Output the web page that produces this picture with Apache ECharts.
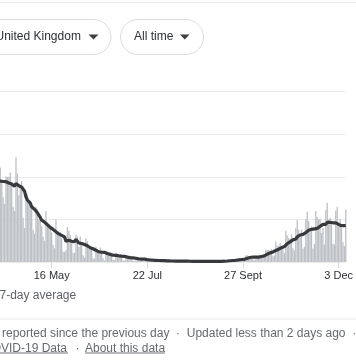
<!DOCTYPE html>
<html><head><meta charset="utf-8">
<script src="https://cdn.jsdelivr.net/npm/echarts@6/dist/echarts.min.js"></script>
<style>html,body{margin:0;padding:0;background:#fff;overflow:hidden}#c{width:356px;height:360px}</style>
</head><body><div id="c"></div>
<script>
// Daily reported deaths, starting 1 Apr 2020 (day 0)
const startDate = [2020, 3, 1];
const dailyDeaths = [
  900, 980, 1050, 950, 800,
  650, 1050, 1100, 1000, 1110, 950, 760,
  680, 1000, 1000, 1000, 1050, 920, 650,
  600, 1230, 1040, 780, 900, 950, 520,
  400, 750, 800, 700, 720, 650, 380,
  330, 650, 620, 500, 540, 420, 300,
  250, 600, 450, 430, 400, 350, 200,
  160, 500, 360, 340, 350, 280, 120,
  120, 140, 410, 370, 320, 220, 110,
  110, 320, 300, 180, 300, 200, 80,
  55, 280, 240, 150, 170, 150, 40,
  40, 180, 150, 110, 170, 125, 45,
  15, 120, 110, 100, 110, 70, 30,
  20, 110, 100, 70, 90, 60, 20,
  15, 80, 70, 60, 50, 45, 15,
  10, 60, 50, 40, 35, 30, 10,
  8, 40, 30, 25, 20, 18, 8,
  6, 30, 25, 18, 15, 14, 5,
  5, 20, 16, 14, 12, 10, 4,
  4, 15, 14, 12, 11, 9, 3,
  3, 14, 13, 10, 9, 7, 2,
  2, 12, 15, 10, 9, 6, 1,
  2, 8, 10, 12, 10, 7, 3,
  3, 11, 8, 14, 8, 9, 5,
  9, 20, 18, 21, 21, 15, 18,
  11, 37, 27, 40, 40, 34, 17,
  20, 80, 80, 70, 65, 55, 40,
  19, 76, 70, 77, 87, 81, 65,
  50, 143, 137, 138, 136, 150, 67,
  80, 241, 191, 189, 224, 174, 151,
  102, 367, 310, 280, 274, 326, 162,
  136, 397, 492, 378, 330, 380, 156,
  180, 500, 590, 480, 360, 420, 160,
  213, 598, 529, 501, 511, 341, 398,
  206, 608, 696, 498, 521, 479, 215,
  205, 603, 648, 414, 504, 397, 231,
  189, 616
];
// tick positions as days since 1 Apr 2020 (16 May, 22 Jul, 27 Sept, 3 Dec)
const tickDays = [45, 112, 179, 246];
const tickLabels = ['16 May', '22 Jul', '27 Sept', '3 Dec'];
const yTicks = [0, 500, 1000, 1500, 2000];

const barData = dailyDeaths.map((v, i) => [i, v]);
const avgData = [];
for (let i = 6; i < dailyDeaths.length; i++) {
  let s = 0; for (let k = i - 6; k <= i; k++) s += dailyDeaths[k];
  avgData.push([i, s / 7]);
}
const xMin = 8.8;
const xMax = xMin + 241.68;

const chart = echarts.init(document.getElementById('c'), null, {renderer: 'canvas'});
const font = '"Liberation Sans", Arial, sans-serif';
chart.setOption({
  animation: false,
  grid: {left: 0, right: 0, top: 91.7, bottom: 98, containLabel: false},
  xAxis: {
    type: 'value', min: xMin, max: xMax,
    axisLine: {show: false},
    splitLine: {show: false},
    axisTick: {show: true, customValues: tickDays, length: 6, lineStyle: {color: '#dadce0', width: 1}},
    axisLabel: {customValues: tickDays, margin: 8, fontSize: 11, fontFamily: font, color: '#2c2f33',
      formatter: v => { const i = tickDays.findIndex(t => Math.abs(t - v) < 0.01); return i >= 0 ? tickLabels[i] : ''; }},
  },
  yAxis: {
    type: 'value', min: yTicks[0], max: yTicks[yTicks.length - 1], interval: 500,
    axisLabel: {show: false}, axisLine: {show: false}, axisTick: {show: false},
    splitLine: {lineStyle: {color: '#ebebeb', width: 1}}
  },
  series: [
    {type: 'bar', data: barData, barWidth: 1.3, itemStyle: {color: '#bcc0c5'}, silent: true},
    {type: 'line', data: avgData, showSymbol: false, lineStyle: {color: '#37393c', width: 3.2}, silent: true, z: 5}
  ],
  graphic: [
    {type: 'rect', shape: {x: 0, y: 2, width: 356, height: 1}, style: {fill: '#e8eaed'}},
    {type: 'rect', shape: {x: -80, y: 19.5, width: 191, height: 35, r: 17.5}, style: {fill: '#fff', stroke: '#dadce0', lineWidth: 1}},
    {type: 'text', x: -4.5, y: 37, style: {text: 'United Kingdom', fontSize: 12, fontFamily: font, fill: '#2c2f33', verticalAlign: 'middle'}},
    {type: 'polygon', shape: {points: [[88.5, 34.5], [98.5, 34.5], [93.5, 39.5]]}, style: {fill: '#3c4043'}},
    {type: 'rect', shape: {x: 120.5, y: 19.5, width: 83, height: 35, r: 17.5}, style: {fill: '#fff', stroke: '#dadce0', lineWidth: 1}},
    {type: 'text', x: 134, y: 37, style: {text: 'All time', fontSize: 12, fontFamily: font, fill: '#2c2f33', verticalAlign: 'middle'}},
    {type: 'polygon', shape: {points: [[180, 34.5], [189.5, 34.5], [184.75, 39.5]]}, style: {fill: '#3c4043'}},
    {type: 'text', x: -0.5, y: 296, style: {text: '7-day average', fontSize: 12, fontFamily: font, fill: '#5f6368', verticalAlign: 'middle'}},
    {type: 'rect', shape: {x: 0, y: 318.5, width: 356, height: 1}, style: {fill: '#e8eaed'}},
    {type: 'text', x: 2, y: 334, style: {text: 'reported since the previous day  ·  Updated less than 2 days ago  ·', fontSize: 12, fontFamily: font, fill: '#666a6f', verticalAlign: 'middle'}},
    {type: 'text', x: -17, y: 349, style: {text: 'COVID-19 Data', fontSize: 12, fontFamily: font, fill: '#666a6f', verticalAlign: 'middle'}},
    {type: 'rect', shape: {x: 0, y: 352.5, width: 68, height: 1}, style: {fill: '#70757a'}},
    {type: 'text', x: 75.5, y: 349, style: {text: '·', fontSize: 12, fontFamily: font, fill: '#666a6f', verticalAlign: 'middle'}},
    {type: 'text', x: 85, y: 349, style: {text: 'About this data', fontSize: 12, fontFamily: font, fill: '#666a6f', verticalAlign: 'middle'}},
    {type: 'rect', shape: {x: 85, y: 352.5, width: 80, height: 1}, style: {fill: '#70757a'}}
  ]
});
</script></body></html>
